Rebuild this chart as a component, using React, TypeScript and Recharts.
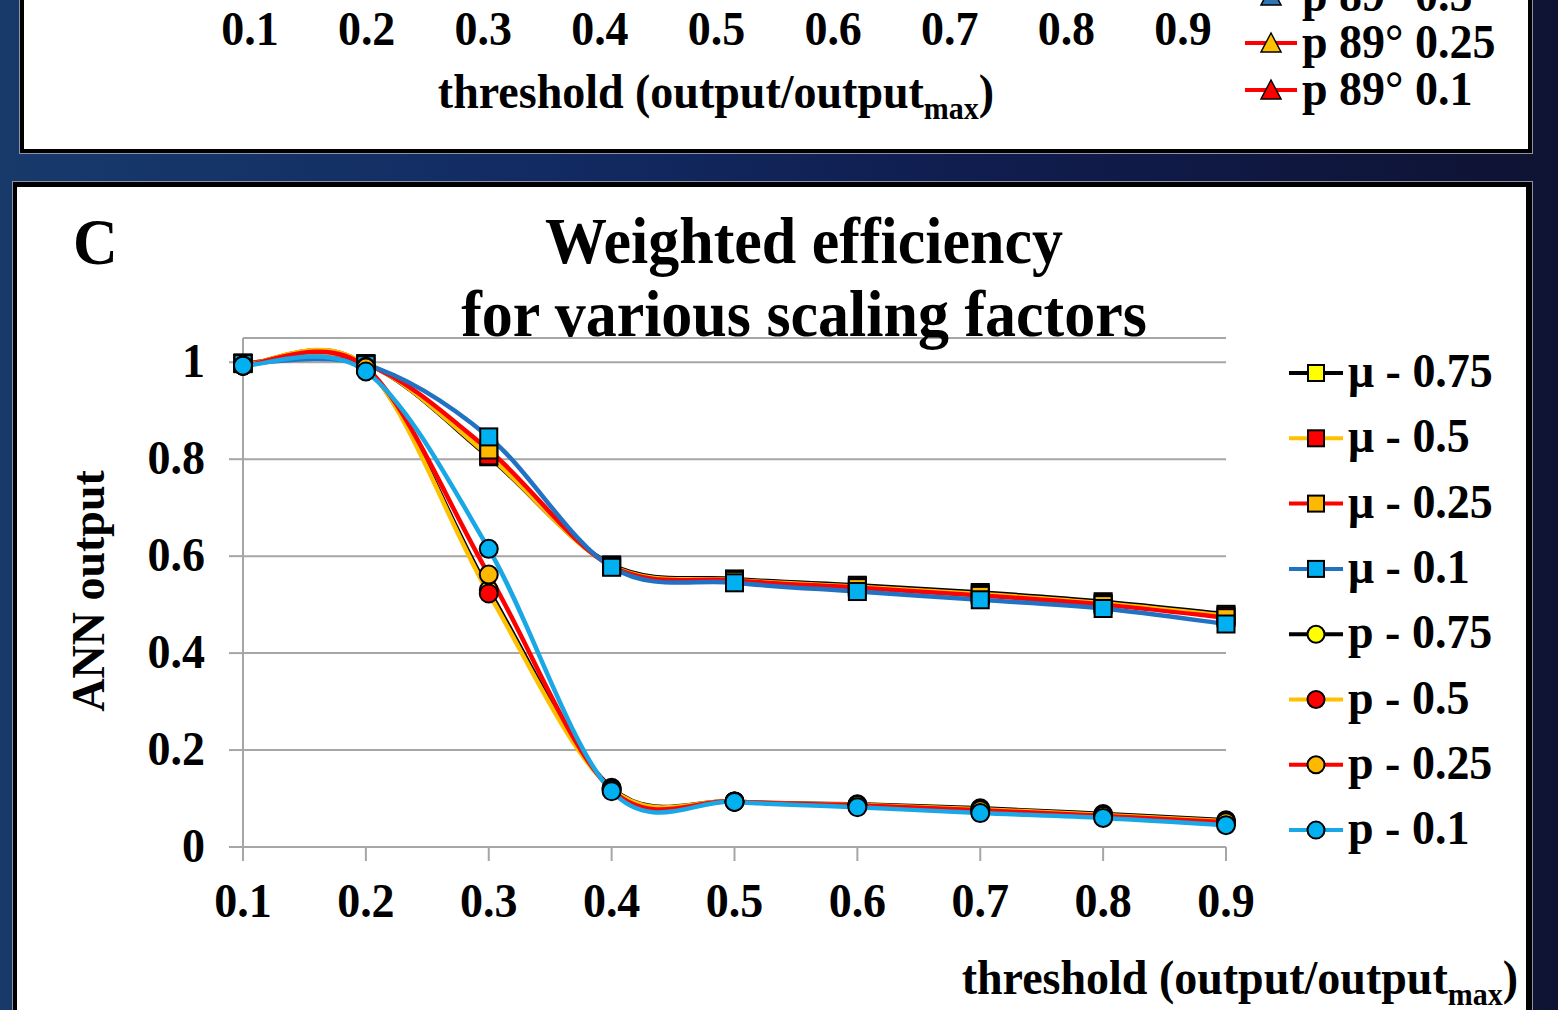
import React from "react";
import { LineChart, Line, XAxis, YAxis, CartesianGrid } from "recharts";

const SERIF = "'Liberation Serif', 'Times New Roman', Times, serif";
const GRID = "#a6a6a6";

const thresholds = [0.1, 0.2, 0.3, 0.4, 0.5, 0.6, 0.7, 0.8, 0.9];
const outputTicks = [0, 0.2, 0.4, 0.6, 0.8, 1];

// μ scaling (square markers)
const mu075 = [0.998, 0.997, 0.805, 0.582, 0.553, 0.54, 0.525, 0.506, 0.48];
const mu050 = [0.998, 0.997, 0.807, 0.58, 0.551, 0.537, 0.522, 0.503, 0.477];
const mu025 = [0.998, 0.996, 0.819, 0.579, 0.55, 0.535, 0.519, 0.5, 0.473];
const mu010 = [0.997, 0.995, 0.846, 0.577, 0.545, 0.527, 0.51, 0.492, 0.46];

// p scaling (circle markers)
const p075 = [0.993, 0.99, 0.53, 0.122, 0.094, 0.088, 0.08, 0.068, 0.055];
const p050 = [0.993, 0.99, 0.523, 0.12, 0.094, 0.087, 0.078, 0.066, 0.053];
const p025 = [0.993, 0.989, 0.562, 0.118, 0.094, 0.086, 0.076, 0.064, 0.051];
const p010 = [0.993, 0.981, 0.615, 0.115, 0.093, 0.082, 0.07, 0.06, 0.045];

const seriesNames = ["μ - 0.75", "μ - 0.5", "μ - 0.25", "μ - 0.1", "p - 0.75", "p - 0.5", "p - 0.25", "p - 0.1"];

// legend of panel B (only its tail shows above panel C)
const panelBLegend = ["p 89° 0.5", "p 89° 0.25", "p 89° 0.1"];

const series = [
  { key: "mu075", values: mu075, line: "#000000", fill: "#ffff00", shape: "square" },
  { key: "mu050", values: mu050, line: "#ffc000", fill: "#ff0000", shape: "square" },
  { key: "mu025", values: mu025, line: "#ff0000", fill: "#ffb800", shape: "square" },
  { key: "mu010", values: mu010, line: "#2272c3", fill: "#00b0f0", shape: "square" },
  { key: "p075", values: p075, line: "#000000", fill: "#ffff00", shape: "circle" },
  { key: "p050", values: p050, line: "#ffc000", fill: "#ff0000", shape: "circle" },
  { key: "p025", values: p025, line: "#ff0000", fill: "#ffb800", shape: "circle" },
  { key: "p010", values: p010, line: "#1aa7e6", fill: "#00b0f0", shape: "circle" },
].map((s, i) => ({ ...s, name: seriesNames[i] }));

const panelBSeries = [
  { line: "#2e75b6", fill: "#2e75b6" },
  { line: "#ff0000", fill: "#ffc000" },
  { line: "#ff0000", fill: "#ff0000" },
].map((s, i) => ({ ...s, name: panelBLegend[i] }));

const data = thresholds.map((t, i) => {
  const row: Record<string, number> = { t };
  series.forEach((s) => (row[s.key] = s.values[i]));
  return row;
});

// Excel-like smoothed line: Bézier through every point, handles at 1/6 of the neighbour chord
const excelSmooth = (context: any) => {
  let pts: number[][] = [];
  return {
    areaStart() {},
    areaEnd() {},
    lineStart() {
      pts = [];
    },
    point(x: number, y: number) {
      pts.push([+x, +y]);
    },
    lineEnd() {
      if (!pts.length) return;
      context.moveTo(pts[0][0], pts[0][1]);
      for (let i = 0; i < pts.length - 1; i++) {
        const a = pts[Math.max(i - 1, 0)];
        const b = pts[i];
        const c = pts[i + 1];
        const d = pts[Math.min(i + 2, pts.length - 1)];
        context.bezierCurveTo(
          b[0] + (c[0] - a[0]) / 6,
          b[1] + (c[1] - a[1]) / 6,
          c[0] - (d[0] - b[0]) / 6,
          c[1] - (d[1] - b[1]) / 6,
          c[0],
          c[1]
        );
      }
    },
  };
};

// bold Times-like text, slightly tall
const Txt = ({ x, y, size, anchor = "start", children }: any) => (
  <g transform={`translate(${x},${y}) scale(1,1.07)`}>
    <text textAnchor={anchor} fontFamily={SERIF} fontWeight="bold" fontSize={size} fill="#000">
      {children}
    </text>
  </g>
);

const Marker = ({ cx, cy, fill, shape, size = 17 }: any) =>
  shape === "square" ? (
    <rect x={cx - size / 2} y={cy - size / 2} width={size} height={size} fill={fill} stroke="#000" strokeWidth={2} />
  ) : (
    <circle cx={cx} cy={cy} r={size / 2 + 0.5} fill={fill} stroke="#000" strokeWidth={2} />
  );

const XTick = ({ x, y, payload }: any) => (
  <Txt x={x} y={y + 36} size={46} anchor="middle">
    {String(payload.value)}
  </Txt>
);

const YTick = ({ x, y, payload }: any) => (
  <Txt x={x} y={y + 15} size={46} anchor="end">
    {String(payload.value)}
  </Txt>
);

const PanelBTick = ({ x, y, payload }: any) => (
  <Txt x={x} y={y + 45} size={46} anchor="middle">
    {String(payload.value)}
  </Txt>
);

const AxisTitle = ({ x, y, anchor }: any) => (
  <g transform={`translate(${x},${y}) scale(1,1.07)`}>
    <text textAnchor={anchor} fontFamily={SERIF} fontWeight="bold" fontSize={46} fill="#000">
      threshold (output/output
      <tspan fontSize={30} dy={10}>max</tspan>
      <tspan dy={-10}>)</tspan>
    </text>
  </g>
);

export default function App() {
  return (
    <div
      style={{
        position: "absolute",
        left: 0,
        top: 0,
        width: 1558,
        height: 1010,
        overflow: "hidden",
        background: "linear-gradient(90deg, #173a6b 0%, #122b62 35%, #101d4f 62%, #0f1333 100%)",
      }}
    >
      {/* panel B, bottom edge */}
      <div
        style={{
          position: "absolute",
          left: 20,
          top: -10,
          width: 1512,
          height: 163,
          boxSizing: "border-box",
          background: "#fff",
          border: "4px solid #000",
          boxShadow: "0 0 0 1px #8d93a3",
        }}
      />
      <div style={{ position: "absolute", left: 0, top: -100 }}>
        <LineChart width={1558} height={200} data={data} margin={{ top: 0, right: 375, bottom: 70, left: 250 }}>
          <XAxis
            dataKey="t"
            type="number"
            domain={[0.1, 0.9]}
            ticks={thresholds}
            interval={0}
            height={30}
            axisLine={false}
            tickLine={false}
            tickSize={0}
            tickMargin={0}
            tick={<PanelBTick />}
          />
        </LineChart>
      </div>

      {/* panel C */}
      <div
        style={{
          position: "absolute",
          left: 13,
          top: 182,
          width: 1519,
          height: 900,
          boxSizing: "border-box",
          background: "#fff",
          borderStyle: "solid",
          borderColor: "#000",
          borderWidth: "5px 6px 0 4px",
          boxShadow: "0 0 0 1px #8d93a3",
        }}
      />
      <div style={{ position: "absolute", left: 0, top: 0 }}>
        <LineChart width={1558} height={1010} data={data} margin={{ top: 338, right: 332, bottom: 103, left: 183 }}>
          <CartesianGrid vertical={false} stroke={GRID} strokeWidth={2} />
          <XAxis
            dataKey="t"
            type="number"
            domain={[0.1, 0.9]}
            ticks={thresholds}
            interval={0}
            height={60}
            tickSize={14}
            tickMargin={20}
            axisLine={{ stroke: GRID, strokeWidth: 2 }}
            tickLine={{ stroke: GRID, strokeWidth: 2 }}
            tick={<XTick />}
          />
          <YAxis
            type="number"
            domain={[0, 1.05]}
            ticks={outputTicks}
            interval={0}
            width={60}
            tickSize={14}
            tickMargin={24}
            axisLine={{ stroke: GRID, strokeWidth: 2 }}
            tickLine={{ stroke: GRID, strokeWidth: 2 }}
            tick={<YTick />}
          />
          {series.map((s) => (
            <Line
              key={s.key}
              dataKey={s.key}
              name={s.name}
              type={excelSmooth as any}
              stroke={s.line}
              strokeWidth={4.5}
              isAnimationActive={false}
              activeDot={false}
              dot={(p: any) => (
                <Marker key={`${s.key}-${p.index}`} cx={p.cx} cy={p.cy} fill={s.fill} shape={s.shape} />
              )}
            />
          ))}
        </LineChart>
      </div>

      <svg
        width={1558}
        height={1010}
        style={{ position: "absolute", left: 0, top: 0, pointerEvents: "none" }}
      >
        {/* panel B axis title and legend tail */}
        <AxisTitle x={716} y={108} anchor="middle" />
        {panelBSeries.map((s, i) => {
          const cy = -4 + 47 * i;
          return (
            <g key={s.name}>
              <line x1={1245} x2={1297} y1={cy} y2={cy} stroke={s.line} strokeWidth={4} />
              <polygon
                points={`1271,${cy - 10} 1281,${cy + 9} 1261,${cy + 9}`}
                fill={s.fill}
                stroke="#000"
                strokeWidth={1.5}
              />
              <Txt x={1302} y={cy + 15} size={46}>
                {s.name}
              </Txt>
            </g>
          );
        })}

        {/* panel C titles */}
        <Txt x={73} y={264} size={62}>
          C
        </Txt>
        <Txt x={804} y={263} size={62} anchor="middle">
          Weighted efficiency
        </Txt>
        <Txt x={804} y={336} size={62} anchor="middle">
          for various scaling factors
        </Txt>
        <g transform="translate(104,591) rotate(-90)">
          <text textAnchor="middle" fontFamily={SERIF} fontWeight="bold" fontSize={46} fill="#000">
            ANN output
          </text>
        </g>
        <AxisTitle x={1518} y={994} anchor="end" />

        {/* panel C legend */}
        {series.map((s, i) => {
          const cy = 373 + 65.3 * i;
          return (
            <g key={s.key}>
              <line x1={1289} x2={1343} y1={cy} y2={cy} stroke={s.line} strokeWidth={4} />
              <Marker cx={1316} cy={cy} fill={s.fill} shape={s.shape} size={16} />
              <Txt x={1348} y={cy + 14} size={46}>
                {s.name}
              </Txt>
            </g>
          );
        })}
      </svg>
    </div>
  );
}
